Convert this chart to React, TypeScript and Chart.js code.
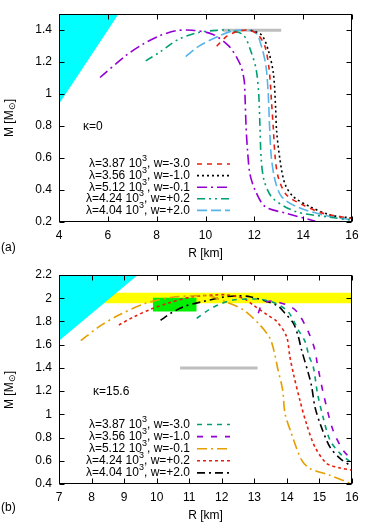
import React, { useEffect, useRef } from "react";
import { Chart, registerables } from "chart.js";

Chart.register(...registerables);

// ---------- Panel (a) data : kappa = 0 ----------
const aXTicks = [4, 6, 8, 10, 12, 14, 16];
const aYTicks = [0.2, 0.4, 0.6, 0.8, 1.0, 1.2, 1.4];

const aRedR = [10.46, 10.89, 11.4, 11.8, 12.16, 12.44, 12.61, 12.7, 12.78, 12.85, 12.98, 13.32, 14.0, 14.82, 16.0];
const aRedM = [1.3, 1.364, 1.395, 1.4, 1.37, 1.296, 1.15, 0.96, 0.78, 0.61, 0.48, 0.369, 0.306, 0.254, 0.222];

const aBlackR = [11.85, 12.3, 12.57, 12.78, 12.87, 12.91, 13.05, 13.25, 13.6, 14.28, 15.1, 16.0];
const aBlackM = [1.4, 1.37, 1.275, 1.13, 0.92, 0.775, 0.59, 0.44, 0.358, 0.296, 0.244, 0.225];

const aPurpleR = [5.68, 6.73, 7.41, 8.1, 8.78, 9.45, 10.28, 10.96, 11.41, 11.58, 11.62, 11.66, 11.72, 11.82, 12.03, 12.44, 13.3, 14.5];
const aPurpleM = [1.104, 1.24, 1.31, 1.364, 1.396, 1.4, 1.375, 1.3, 1.19, 1.09, 0.98, 0.8, 0.65, 0.5, 0.4, 0.296, 0.255, 0.205];

const aGreenR = [7.55, 8.1, 8.91, 9.73, 10.55, 10.95, 11.55, 11.89, 12.08, 12.18, 12.23, 12.28, 12.4, 12.75, 13.7, 15.1, 16.0];
const aGreenM = [1.208, 1.26, 1.344, 1.386, 1.4, 1.4, 1.37, 1.254, 1.15, 1.0, 0.8, 0.6, 0.46, 0.35, 0.265, 0.23, 0.21];

const aBlueR = [9.19, 9.73, 10.55, 11.1, 11.5, 12.03, 12.3, 12.48, 12.57, 12.63, 12.7, 12.85, 13.12, 13.73, 14.82, 16.0];
const aBlueM = [1.235, 1.3, 1.364, 1.395, 1.4, 1.39, 1.295, 1.17, 1.0, 0.775, 0.6, 0.46, 0.358, 0.296, 0.244, 0.213];

// ---------- Panel (b) data : kappa = 15.6 ----------
const bXTicks = [7, 8, 9, 10, 11, 12, 13, 14, 15, 16];
const bYTicks = [0.4, 0.6, 0.8, 1.0, 1.2, 1.4, 1.6, 1.8, 2.0, 2.2];

const bGreenR = [11.23, 11.6, 11.94, 12.35, 13.07, 13.4, 13.7, 14.04, 14.35, 14.56, 14.68, 14.81, 14.94, 15.12, 15.32, 15.63, 15.94, 16.0];
const bGreenM = [1.827, 1.9, 1.948, 1.985, 1.993, 1.98, 1.95, 1.884, 1.726, 1.626, 1.5, 1.41, 1.18, 0.966, 0.78, 0.664, 0.592, 0.58];

const bPurpleR = [13.12, 13.22, 13.38, 13.6, 14.1, 14.35, 14.66, 14.86, 14.93, 15.12, 15.42, 15.73, 16.0];
const bPurpleM = [1.87, 1.94, 1.97, 1.975, 1.93, 1.87, 1.71, 1.555, 1.44, 1.18, 0.86, 0.69, 0.607];

const bOrangeR = [7.67, 8.23, 8.84, 9.66, 10.48, 11.3, 11.6, 12.12, 12.66, 13.17, 13.48, 13.6, 13.73, 13.87, 13.94, 14.12, 14.45, 14.7, 15.3, 16.0];
const bOrangeM = [1.634, 1.755, 1.855, 1.956, 2.008, 2.022, 2.02, 1.97, 1.9, 1.77, 1.655, 1.55, 1.38, 1.21, 1.01, 0.85, 0.607, 0.535, 0.477, 0.4];

const bRedR = [8.84, 9.3, 9.82, 10.38, 11.1, 11.81, 12.1, 12.66, 12.97, 13.38, 13.69, 13.99, 14.09, 14.2, 14.4, 14.6, 14.86, 15.22, 15.6, 16.0];
const bRedM = [1.77, 1.84, 1.905, 1.96, 2.013, 2.028, 2.03, 2.0, 1.94, 1.86, 1.8, 1.67, 1.5, 1.35, 1.12, 0.92, 0.72, 0.578, 0.54, 0.52];

const bBlackR = [10.12, 10.43, 10.89, 11.4, 12.12, 12.5, 12.87, 13.69, 13.94, 14.2, 14.35, 14.45, 14.66, 14.76, 14.86, 15.02, 15.32, 15.63, 16.0];
const bBlackM = [1.81, 1.87, 1.933, 1.97, 2.013, 2.02, 2.013, 1.94, 1.87, 1.784, 1.67, 1.555, 1.353, 1.24, 1.066, 0.92, 0.72, 0.621, 0.55];

// legend texts
const lambdas = ["3.87", "3.56", "5.12", "4.24", "4.04"];
const ws = ["-3.0", "-1.0", "-0.1", "+0.2", "+2.0"];

const FONT = '"Liberation Sans", Arial, Helvetica, sans-serif';

const pts = (xs: number[], ys: number[]) => xs.map((x, i) => ({ x, y: ys[i] }));

type Series = { r: number[]; m: number[]; color: string; dash: number[] };

const aSeries: Series[] = [
  { r: aRedR, m: aRedM, color: "#e51e10", dash: [5, 5] },
  { r: aBlackR, m: aBlackM, color: "#000000", dash: [2, 3] },
  { r: aPurpleR, m: aPurpleM, color: "#9400d3", dash: [10, 4, 2, 4] },
  { r: aGreenR, m: aGreenM, color: "#009e73", dash: [8, 4, 2, 4, 2, 4] },
  { r: aBlueR, m: aBlueM, color: "#56b4e9", dash: [10, 4] },
];

const bSeries: Series[] = [
  { r: bGreenR, m: bGreenM, color: "#009e73", dash: [5, 5] },
  { r: bPurpleR, m: bPurpleM, color: "#9400d3", dash: [6, 8] },
  { r: bOrangeR, m: bOrangeM, color: "#e69f00", dash: [10, 4, 2, 4] },
  { r: bRedR, m: bRedM, color: "#e51e10", dash: [3, 3] },
  { r: bBlackR, m: bBlackM, color: "#000000", dash: [8, 4, 2, 4] },
];

const framePlugin = {
  id: "frame",
  afterDraw(chart: any, _args: any, opts: any) {
    const ctx = chart.ctx as CanvasRenderingContext2D;
    const ca = chart.chartArea;
    const xs = chart.scales.x;
    const ys = chart.scales.y;
    ctx.save();
    // border
    ctx.strokeStyle = "#000";
    ctx.lineWidth = 1;
    ctx.setLineDash([]);
    const L = Math.round(ca.left) + 0.5, R = Math.round(ca.right) - 0.5;
    const T = Math.round(ca.top) + 0.5, B = Math.round(ca.bottom) - 0.5;
    ctx.strokeRect(L, T, R - L, B - T);
    // inward ticks
    const tl = 5;
    ctx.beginPath();
    xs.ticks.forEach((t: any) => {
      const px = Math.round(xs.getPixelForValue(t.value)) + 0.5;
      ctx.moveTo(px, B); ctx.lineTo(px, B - tl);
      ctx.moveTo(px, T); ctx.lineTo(px, T + tl);
    });
    ys.ticks.forEach((t: any) => {
      const py = Math.round(ys.getPixelForValue(t.value)) + 0.5;
      ctx.moveTo(L, py); ctx.lineTo(L + tl, py);
      ctx.moveTo(R, py); ctx.lineTo(R - tl, py);
    });
    ctx.stroke();

    // legend
    const main = `12px ${FONT}`;
    const sup = `9px ${FONT}`;
    ctx.fillStyle = "#000";
    ctx.textBaseline = "middle";
    opts.series.forEach((s: Series, i: number) => {
      const y = opts.legY + i * opts.legDy;
      const p1 = `\u03bb=${lambdas[i]} 10`;
      const p2 = "3";
      const p3 = `, w=${ws[i]}`;
      ctx.font = main;
      const w1 = ctx.measureText(p1).width;
      const w3 = ctx.measureText(p3).width;
      ctx.font = sup;
      const w2 = ctx.measureText(p2).width;
      let x = opts.legRight - (w1 + w2 + w3);
      ctx.font = main;
      ctx.textAlign = "left";
      ctx.fillText(p1, x, y);
      x += w1;
      ctx.font = sup;
      ctx.fillText(p2, x, y - 5);
      x += w2;
      ctx.font = main;
      ctx.fillText(p3, x, y);
      ctx.save();
      ctx.strokeStyle = s.color;
      ctx.lineWidth = 1.6;
      ctx.setLineDash(s.dash);
      ctx.beginPath();
      ctx.moveTo(opts.legRight + 7, y);
      ctx.lineTo(opts.legRight + 40, y);
      ctx.stroke();
      ctx.restore();
    });

    // kappa label
    ctx.font = main;
    ctx.textAlign = "left";
    ctx.fillText(opts.kappa, opts.kx, opts.ky);

    // x axis title
    ctx.textAlign = "center";
    ctx.fillText("R [km]", (ca.left + ca.right) / 2, opts.xTitleY);

    // panel label
    ctx.textAlign = "left";
    ctx.fillText(opts.panel, 1, opts.panelY);

    // y axis title  M [M_sun]
    ctx.save();
    ctx.translate(10, opts.yTitleY);
    ctx.rotate(-Math.PI / 2);
    ctx.font = main;
    const t1 = "M [M";
    const t3 = "]";
    const wa = ctx.measureText(t1).width;
    const wc = ctx.measureText(t3).width;
    ctx.font = sup;
    const t2 = "\u2299";
    const wb = ctx.measureText(t2).width;
    let xx = -(wa + wb + wc) / 2;
    ctx.font = main;
    ctx.textAlign = "left";
    ctx.fillText(t1, xx, 0);
    xx += wa;
    ctx.font = sup;
    ctx.fillText(t2, xx, 3);
    xx += wb;
    ctx.font = main;
    ctx.fillText(t3, xx, 0);
    ctx.restore();

    ctx.restore();
  },
};

function curveSets(series: Series[]) {
  return series.map((s) => ({
    data: pts(s.r, s.m),
    showLine: true,
    borderColor: s.color,
    borderWidth: 1.6,
    borderDash: s.dash,
    pointRadius: 0,
    fill: false,
    tension: 0.3,
    order: 0,
  }));
}

function makeConfig(p: any) {
  const tickFont = { family: FONT, size: 12 };
  return {
    type: "scatter",
    data: { datasets: p.datasets },
    plugins: [framePlugin],
    options: {
      animation: false,
      responsive: false,
      devicePixelRatio: 1,
      layout: { padding: { top: p.padTop, right: 22, left: 0, bottom: 0 } },
      plugins: {
        legend: { display: false },
        tooltip: { enabled: false },
        frame: p.frame,
      },
      scales: {
        x: {
          type: "linear",
          min: p.xMin,
          max: p.xMax,
          afterBuildTicks: (s: any) => {
            s.ticks = p.xTicks.map((v: number) => ({ value: v }));
          },
          afterFit: (s: any) => {
            s.height = p.xAxisH;
          },
          grid: { display: false, drawTicks: false },
          border: { display: false },
          ticks: {
            padding: 6,
            font: tickFont,
            color: "#000",
            maxRotation: 0,
            autoSkip: false,
            callback: (v: any) => String(Number(v)),
          },
        },
        y: {
          type: "linear",
          min: p.yMin,
          max: p.yMax,
          afterBuildTicks: (s: any) => {
            s.ticks = p.yTicks.map((v: number) => ({ value: v }));
          },
          afterFit: (s: any) => {
            s.width = 59;
          },
          grid: { display: false, drawTicks: false },
          border: { display: false },
          ticks: {
            padding: 7,
            font: tickFont,
            color: "#000",
            autoSkip: false,
            callback: (v: any) => String(Number(Number(v).toFixed(1))),
          },
        },
      },
    },
  };
}

export default function App() {
  const refA = useRef<HTMLCanvasElement>(null);
  const refB = useRef<HTMLCanvasElement>(null);

  useEffect(() => {
    const dsA = [
      ...curveSets(aSeries),
      {
        data: [{ x: 10.7, y: 1.4 }, { x: 13.1, y: 1.4 }],
        showLine: true, borderColor: "#bebebe", borderWidth: 3, pointRadius: 0, fill: false, order: 5,
      },
      {
        data: [{ x: 4, y: 0.9375 }, { x: 6.43, y: 1.5 }],
        showLine: true, borderWidth: 0, borderColor: "rgba(0,0,0,0)", backgroundColor: "#00ffff",
        pointRadius: 0, fill: "end", order: 6,
      },
    ];
    const dsB = [
      ...curveSets(bSeries),
      {
        data: [{ x: 10.72, y: 1.4 }, { x: 13.1, y: 1.4 }],
        showLine: true, borderColor: "#bebebe", borderWidth: 3, pointRadius: 0, fill: false, order: 5,
      },
      {
        data: [{ x: 7, y: 1.634 }, { x: 9.42, y: 2.2 }],
        showLine: true, borderWidth: 0, borderColor: "rgba(0,0,0,0)", backgroundColor: "#00ffff",
        pointRadius: 0, fill: "end", order: 6,
      },
      {
        data: [{ x: 9.88, y: 2.005 }, { x: 11.23, y: 2.005 }],
        showLine: true, borderWidth: 0, borderColor: "rgba(0,0,0,0)", backgroundColor: "#00ee00",
        pointRadius: 0, fill: { value: 1.885 }, order: 7,
      },
      {
        data: [{ x: 7, y: 2.048 }, { x: 16, y: 2.048 }],
        showLine: true, borderWidth: 0, borderColor: "rgba(0,0,0,0)", backgroundColor: "#ffff00",
        pointRadius: 0, fill: { value: 1.956 }, order: 8,
      },
    ];

    const chartA = new Chart(refA.current as any, makeConfig({
      datasets: dsA, padTop: 14, xAxisH: 38, xMin: 4, xMax: 16, yMin: 0.2, yMax: 1.5,
      xTicks: aXTicks, yTicks: aYTicks,
      frame: {
        series: aSeries, legY: 164, legDy: 11.6, legRight: 190,
        kappa: "\u03ba=0", kx: 83, ky: 127, xTitleY: 254, panel: "(a)", panelY: 248, yTitleY: 118,
      },
    }) as any);
    const chartB = new Chart(refB.current as any, makeConfig({
      datasets: dsB, padTop: 15, xAxisH: 39, xMin: 7, xMax: 16, yMin: 0.4, yMax: 2.2,
      xTicks: bXTicks, yTicks: bYTicks,
      frame: {
        series: bSeries, legY: 164.5, legDy: 12.1, legRight: 190,
        kappa: "\u03ba=15.6", kx: 93, ky: 132, xTitleY: 256, panel: "(b)", panelY: 248, yTitleY: 130,
      },
    }) as any);
    return () => {
      chartA.destroy();
      chartB.destroy();
    };
  }, []);

  return (
    <div style={{ position: "absolute", left: 0, top: 0, width: 374, height: 523, background: "#fff" }}>
      <canvas ref={refA} width={374} height={260} style={{ position: "absolute", left: 0, top: 0, width: 374, height: 260 }} />
      <canvas ref={refB} width={374} height={263} style={{ position: "absolute", left: 0, top: 260, width: 374, height: 263 }} />
    </div>
  );
}
